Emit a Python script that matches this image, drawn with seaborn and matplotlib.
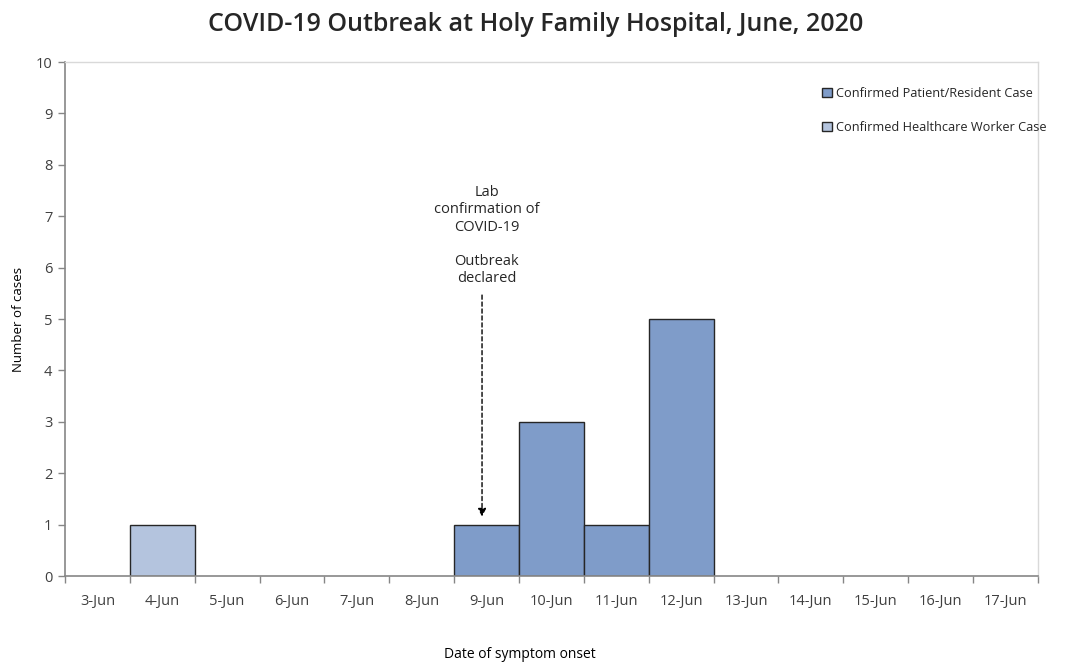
import pandas as pd
import seaborn as sns
import matplotlib.pyplot as plt
from matplotlib.patches import Patch

dates = ['3-Jun', '4-Jun', '5-Jun', '6-Jun', '7-Jun', '8-Jun', '9-Jun', '10-Jun',
         '11-Jun', '12-Jun', '13-Jun', '14-Jun', '15-Jun', '16-Jun', '17-Jun']
patient_cases = [0, 0, 0, 0, 0, 0, 1, 3, 1, 5, 0, 0, 0, 0, 0]
worker_cases = [0, 1, 0, 0, 0, 0, 0, 0, 0, 0, 0, 0, 0, 0, 0]
series_names = ['Confirmed Patient/Resident Case', 'Confirmed Healthcare Worker Case']
series_colors = ['#7f9cc9', '#b4c4de']
y_ticks = list(range(0, 11))

rows = []
for d, p, w in zip(dates, patient_cases, worker_cases):
    rows.append([d, series_names[0], p])
    rows.append([d, series_names[1], w])
df = pd.DataFrame(rows, columns=['date', 'type', 'cases'])
df = df[df['cases'] > 0]

sns.set_theme(style='white')
plt.rcParams['font.family'] = ['Open Sans', 'DejaVu Sans']

fig = plt.figure(figsize=(10.72, 6.67), dpi=100)
ax = fig.add_axes([0.0606, 0.1364, 0.9076, 0.7706])

sns.barplot(data=df, x='date', y='cases', hue='type', order=dates,
            hue_order=series_names, palette=series_colors, saturation=1,
            dodge=False, width=1.0, edgecolor='#262626', linewidth=1.0,
            ax=ax, legend=False)

ax.set_xlim(-0.5, len(dates) - 0.5)
ax.set_ylim(0, 10)
ax.set_yticks(y_ticks)
ax.set_xticks(range(len(dates)))
ax.set_xticklabels(dates)
ax.set_xticks([i - 0.5 for i in range(len(dates) + 1)], minor=True)
ax.tick_params(axis='x', which='major', length=0, pad=13, labelsize=10.5, colors='#404040')
ax.tick_params(axis='x', which='minor', length=5, width=1, color='#868686', direction='out', bottom=True)
ax.tick_params(axis='y', length=5, width=1, color='#868686', direction='out', left=True,
               labelsize=10.5, labelcolor='#404040', pad=4)

for side in ['left', 'bottom']:
    ax.spines[side].set_color('#868686')
    ax.spines[side].set_linewidth(1.2)
for side in ['top', 'right']:
    ax.spines[side].set_color('#d9d9d9')
    ax.spines[side].set_linewidth(1.0)

ax.set_xlabel('')
ax.set_ylabel('Number of cases', fontsize=9.5, labelpad=8, color='#000000')
fig.text(520 / 1072, 1 - 655 / 667, 'Date of symptom onset', ha='center', va='center',
         fontsize=10, color='#000000')

fig.suptitle('COVID-19 Outbreak at Holy Family Hospital, June, 2020',
             fontsize=18, fontweight='semibold', y=0.982)

ax.annotate('', xy=(5.93, 1.1), xytext=(5.93, 5.52),
            arrowprops=dict(arrowstyle='-|>', linestyle=(0, (3, 2)), color='black',
                            lw=1.0, mutation_scale=12))
ax.text(6.0, 5.64, 'Lab\nconfirmation of\nCOVID-19\n\nOutbreak\ndeclared', ha='center', va='bottom',
        fontsize=10.5, color='#262626', linespacing=1.2)

handles = [Patch(facecolor=c, edgecolor='#262626', linewidth=1.0) for c in series_colors]
leg = ax.legend(handles, series_names, loc='upper left', bbox_to_anchor=(0.773, 0.962),
                frameon=False, handlelength=0.75, handleheight=0.75, handletextpad=0.35,
                labelspacing=1.65, fontsize=9.2, borderaxespad=0)
for t in leg.get_texts():
    t.set_color('#262626')

fig.savefig('out.png', dpi=100)
